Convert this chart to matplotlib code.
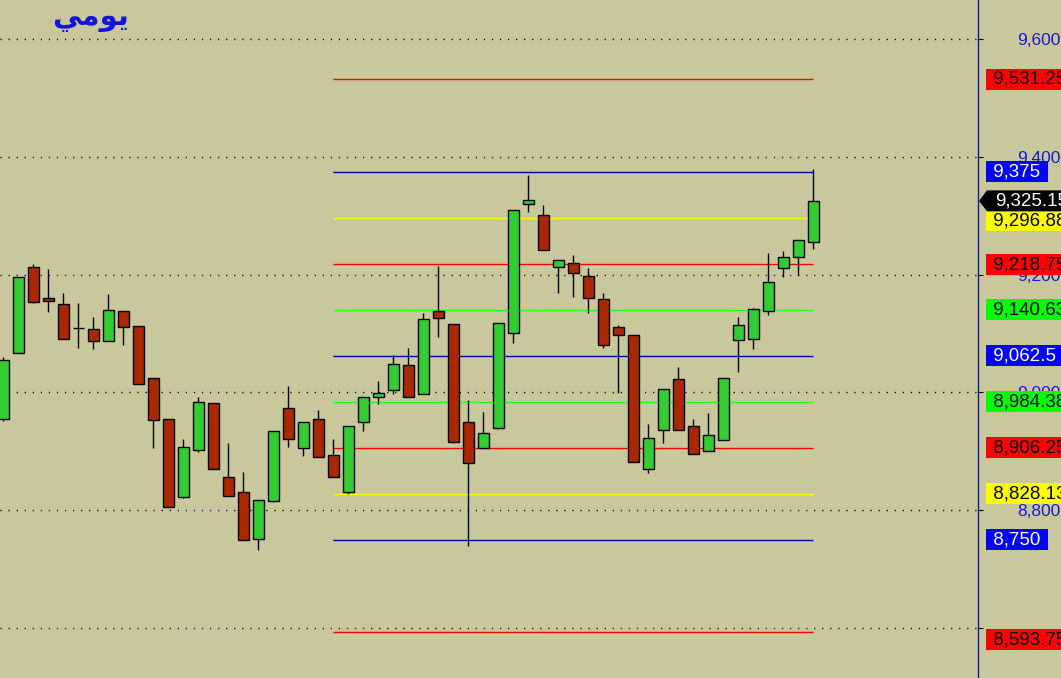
import matplotlib.pyplot as plt
import matplotlib.transforms as mtransforms
from matplotlib.patches import Polygon
import numpy as np

# daily candles (open, high, low, close), oldest first
opens = [8955, 9067, 9213, 9160, 9150, 9110, 9108, 9087, 9138, 9113,
         9024, 8955, 8822, 8902, 8982, 8856, 8831, 8751, 8816, 8974,
         8906, 8955, 8894, 8831, 8950, 8992, 9004, 9047, 8997, 9138,
         9116, 8950, 8906, 8940, 9101, 9320, 9301, 9213, 9220, 9198,
         9159, 9111, 9097, 8870, 8936, 9023, 8943, 8900, 8919, 9089,
         9091, 9138, 9211, 9230, 9255]
highs = [9060, 9196, 9218, 9210, 9169, 9152, 9128, 9167, 9138, 9113,
         9024, 8955, 8921, 8992, 8982, 8914, 8865, 8817, 8935, 9011,
         8950, 8970, 8921, 8943, 8992, 9019, 9064, 9075, 9135, 9215,
         9116, 8987, 8967, 9118, 9310, 9369, 9318, 9225, 9233, 9211,
         9169, 9114, 9097, 8946, 9006, 9043, 8955, 8965, 9024, 9128,
         9143, 9237, 9240, 9259, 9379]
lows = [8951, 9067, 9152, 9137, 9091, 9075, 9074, 9087, 9080, 9014,
        8906, 8805, 8821, 8899, 8870, 8824, 8749, 8732, 8814, 8907,
        8892, 8890, 8856, 8828, 8935, 8980, 8997, 8992, 8997, 9094,
        8914, 8739, 8906, 8938, 9084, 9306, 9242, 9169, 9162, 9135,
        9075, 8999, 8882, 8863, 8914, 8936, 8895, 8900, 8919, 9035,
        9074, 9131, 9196, 9199, 9243]
closes = [9055, 9196, 9154, 9155, 9091, 9109, 9087, 9140, 9111, 9014,
          8953, 8805, 8907, 8984, 8870, 8824, 8749, 8817, 8935, 8921,
          8950, 8890, 8856, 8943, 8992, 8999, 9048, 8992, 9125, 9126,
          8916, 8880, 8931, 9118, 9310, 9327, 9242, 9225, 9203, 9160,
          9080, 9097, 8882, 8923, 9006, 8936, 8895, 8928, 9024, 9114,
          9142, 9187, 9230, 9259, 9325.15]
last_price = 9325.15

# support / resistance levels drawn over the last part of the chart
levels = [9531.25, 9375, 9296.88, 9218.75, 9140.63, 9062.5,
          8984.38, 8906.25, 8828.13, 8750, 8593.75]
level_labels = ['9,531.25', '9,375', '9,296.88', '9,218.75', '9,140.63', '9,062.5',
                '8,984.38', '8,906.25', '8,828.13', '8,750', '8,593.75']
level_kinds = ['red', 'blue', 'yellow', 'red', 'green', 'blue',
               'green', 'red', 'yellow', 'blue', 'red']
level_start = 22

yticks = [8600, 8800, 9000, 9200, 9400, 9600]
ytick_labels = ['', '8,800', '9,000', '9,200', '9,400', '9,600']

title = '\ufef2\ufee3\ufeee\ufef3'  # يومي, letters already in joined forms

bg = '#C8C89C'
line_cols = {'red': '#FF0000', 'blue': '#0000B0', 'yellow': '#FFFF00', 'green': '#22FF22'}
box_cols = {'red': '#FF0000', 'blue': '#0000FF', 'yellow': '#FFFF00', 'green': '#00FF00'}
txt_cols = {'red': 'black', 'blue': 'white', 'yellow': 'black', 'green': 'black'}

plt.rcParams['font.family'] = ['Liberation Sans', 'DejaVu Sans']

W, H = 1061, 678
fig = plt.figure(figsize=(W / 100, H / 100), dpi=100, facecolor=bg)
ax = fig.add_axes([0, 0, 978 / W, 1])
ax.set_facecolor(bg)

ymin, ymax = 8515.1, 9666.2
ax.set_ylim(ymin, ymax)
ax.set_xlim(-0.2333, 64.97)
ppx = (ymax - ymin) / H  # price per pixel

x = np.arange(len(opens))
o = np.array(opens)
c = np.array(closes)
up = c >= o

# dotted grid
for t in yticks:
    ax.axhline(t, color='black', lw=1.0, ls=(0, (0.9, 4.9)), zorder=1)

# level lines
for lv, kind in zip(levels, level_kinds):
    ax.hlines(lv, level_start, len(opens) - 1, colors=line_cols[kind], lw=1.0, zorder=2)

# candles: wicks then bodies
ax.vlines(x, lows, highs, color='black', lw=1.0, zorder=3)
ax.bar(x, np.abs(c - o), bottom=np.minimum(o, c), width=0.73,
       color=np.where(up, '#33CC33', '#AA2800'), edgecolor='black', lw=1.0, zorder=4)

# axis on the right
for s in ['top', 'left', 'bottom']:
    ax.spines[s].set_visible(False)
ax.spines['right'].set_color('#1818A0')
ax.spines['right'].set_linewidth(1.0)
ax.set_xticks([])
ax.yaxis.tick_right()
ax.set_yticks(yticks)
ax.set_yticklabels(ytick_labels)
ax.tick_params(axis='y', length=3.6, width=0.8, color='black', pad=24.5,
               labelsize=12.5, labelcolor='#1A1AD0')

# we place the level labels, blended: x in axes, y in data
trans = mtransforms.blended_transform_factory(ax.transAxes, ax.transData)
nudge = {2: 3, 3: 1, 10: 8}  # pixels down, where labels were pushed apart
for i, (lv, lab, kind) in enumerate(zip(levels, level_labels, level_kinds)):
    yy = lv - nudge.get(i, 0) * ppx
    ax.text(988 / 978, yy, ' ' + lab + ' ', transform=trans, ha='left', va='center',
            fontsize=13.5, color=txt_cols[kind], clip_on=False, zorder=6,
            bbox=dict(boxstyle='square,pad=0.12', fc=box_cols[kind], ec='none'))

# current price tag with arrow
hh = 10.5 * ppx
tag = Polygon([(979 / 978, last_price), (987 / 978, last_price + hh), (1100 / 978, last_price + hh),
               (1100 / 978, last_price - hh), (987 / 978, last_price - hh)],
              closed=True, transform=trans, fc='black', ec='none', clip_on=False, zorder=7)
ax.add_patch(tag)
ax.text(995 / 978, last_price, '9,325.15', transform=trans, ha='left', va='center',
        fontsize=13.5, color='white', clip_on=False, zorder=8)

fig.text(52 / W, 1 - 18 / H, title, ha='left', va='center', fontsize=21,
         fontweight='bold', color='#1414D8', family=['DejaVu Sans'])

fig.savefig('out.png', dpi=100, facecolor=bg)
